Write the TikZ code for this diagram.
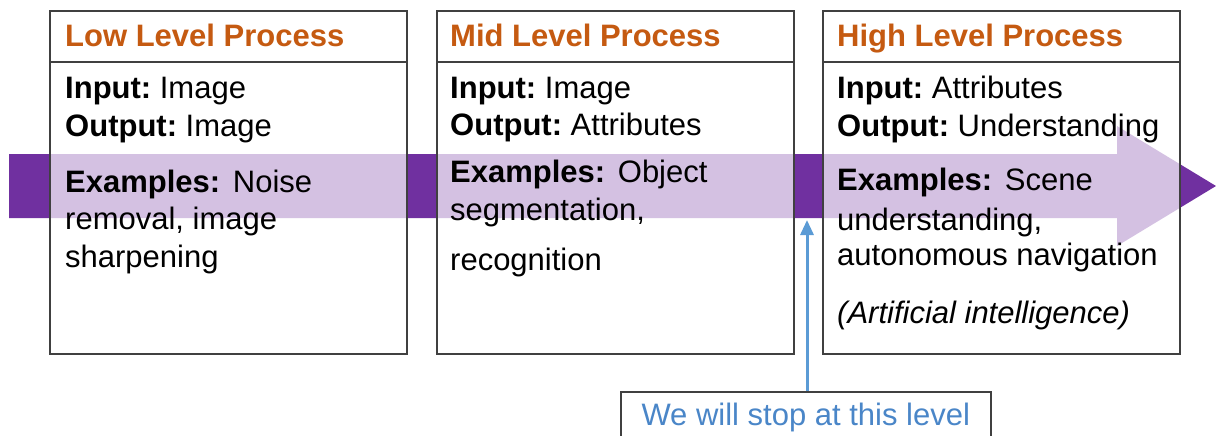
\documentclass[tikz,border=0pt]{standalone}
\usepackage{fontspec}
\setmainfont{Liberation Sans}
\usepackage{xcolor}
\usepackage{tikz}
\usetikzlibrary{arrows.meta, positioning}
\frenchspacing

\definecolor{bandpurple}{HTML}{7030A0}
\definecolor{headorange}{HTML}{C55A11}
\definecolor{boxgray}{HTML}{404040}
\definecolor{noteblue}{HTML}{4A86C8}
\definecolor{arrowblue}{HTML}{5B9BD5}

\begin{document}
\begin{tikzpicture}[
        x=1pt, y=-1pt,
        font=\fontsize{31}{37.5}\selectfont,
        node distance=30pt,
        procbox/.style={rectangle, draw=boxgray, line width=1.5pt, fill=white, fill opacity=0.7, minimum width=357pt, minimum height=343pt, inner sep=0pt, outer sep=0pt},
        boxline/.style={draw=boxgray, line width=1.5pt},
        headtxt/.style={font=\fontsize{31}{37.5}\selectfont\bfseries, text=headorange, anchor=base west, inner sep=0pt},
        bodytxt/.style={align=left, anchor=base west, inner sep=0pt},
        notebox/.style={rectangle, draw=boxgray, line width=1.5pt, fill=white, text=noteblue, minimum width=370pt, text height=23pt, text depth=7pt, inner ysep=11pt},
        arrowline/.style={-{Triangle[length=15pt, width=13pt]}, line width=3pt, arrowblue}
    ]
        \useasboundingbox (0,0) rectangle (1216,436);
        % purple band behind the boxes
        \fill[bandpurple] (9,154) -- (1117,154) -- (1117,126) -- (1216,186) -- (1117,246) -- (1117,218) -- (9,218) -- cycle;

        \node[procbox, anchor=north west] (low) at (50,11) {};
        \node[procbox, right=of low] (mid) {};
        \node[procbox, right=29pt of mid] (high) {};

        \draw[boxline] ([yshift=-51pt]low.north west) -- ([yshift=-51pt]low.north east);
        \draw[boxline] ([yshift=-51pt]mid.north west) -- ([yshift=-51pt]mid.north east);
        \draw[boxline] ([yshift=-51pt]high.north west) -- ([yshift=-51pt]high.north east);

        \node[headtxt] (lowhead) at ([shift={(15pt,-36pt)}]low.north west) {Low Level Process};
        \node[headtxt] (midhead) at ([shift={(13pt,-36pt)}]mid.north west) {Mid Level Process};
        \node[headtxt] (highhead) at ([shift={(14pt,-36pt)}]high.north west) {High Level Process};

        % base anchor sits on the last line
        \node[bodytxt] (lowbody) at ([shift={(15pt,-256pt)}]low.north west) {\textbf{Input:} Image\\ \textbf{Output:} Image\\[18.5pt] \textbf{Examples:}\hspace{4pt} Noise\\ removal, image\\ sharpening};
        \node[bodytxt] (midbody) at ([shift={(13pt,-259pt)}]mid.north west) {\textbf{Input:} Image\\ \textbf{Output:} Attributes\\[9.5pt] \textbf{Examples:}\hspace{4pt} Object\\ segmentation,\\[12.5pt] recognition};
        \node[bodytxt] (highbody) at ([shift={(14pt,-312pt)}]high.north west) {\textbf{Input:} Attributes\\ \textbf{Output:} Understanding\\[16.5pt] \textbf{Examples:}\hspace{4pt} Scene\\[2.5pt] understanding,\\[-2.5pt] autonomous navigation\\[20.5pt] \textit{(Artificial intelligence)}};

        % where the course stops
        \node[notebox, anchor=north west] (note) at (620,391) {We will stop at this level};
        \coordinate (stop) at (807,220);
        \draw[arrowline] (stop |- note.north) -- (stop);
    \end{tikzpicture}
\end{document}
